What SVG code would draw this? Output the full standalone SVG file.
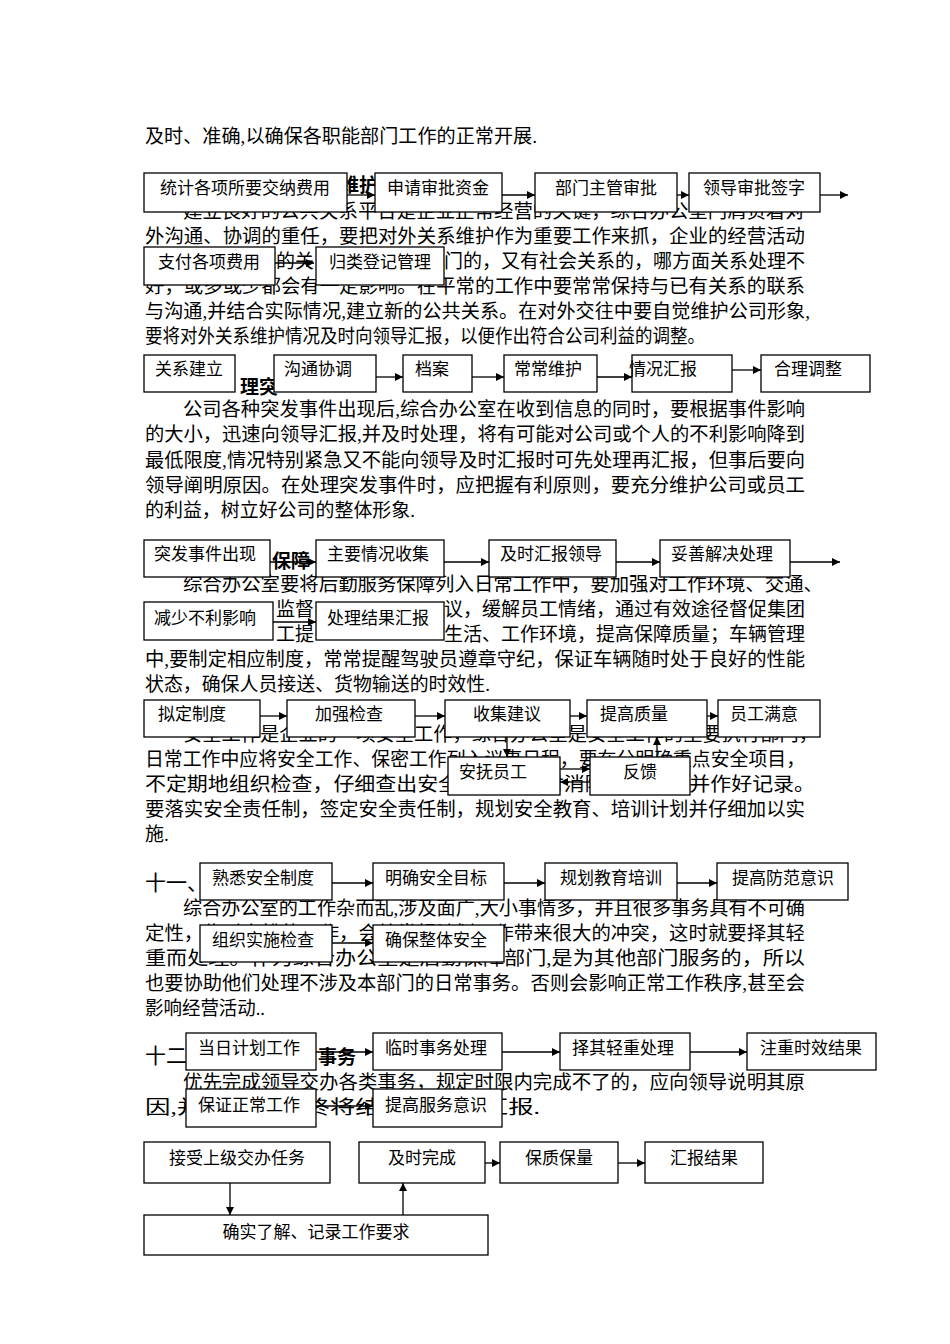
<svg xmlns="http://www.w3.org/2000/svg" width="950" height="1344" viewBox="0 0 950 1344">
<style>
.t{font-family:"Liberation Serif","Noto Sans CJK SC",serif;font-size:19px;fill:#000}
.h{font-family:"Liberation Sans","Noto Sans CJK SC",sans-serif;font-size:19px;font-weight:bold;fill:#000}
.b rect{fill:#fff;stroke:#000;stroke-width:1.3}
.b text{font-family:"Liberation Serif","Noto Sans CJK SC",serif;font-size:17px;fill:#000;text-anchor:middle}
.c line{stroke:#000;stroke-width:1.3;marker-end:url(#a)}
</style>
<defs><marker id="a" viewBox="0 0 10 10" refX="10" refY="5" markerWidth="8" markerHeight="8" markerUnits="userSpaceOnUse" orient="auto"><path d="M0,0L10,5L0,10z" fill="#000"/></marker></defs>
<rect width="950" height="1344" fill="#fff"/>
<g id="body">
<text class="t" x="145" y="143" textLength="392" lengthAdjust="spacingAndGlyphs">及时、准确,以确保各职能部门工作的正常开展.</text>
<text class="h" x="340" y="192">维护</text>
<text class="t" x="183" y="218" textLength="622" lengthAdjust="spacingAndGlyphs">建立良好的公共关系平台是企业正常经营的关键，综合办公室门肩负着对</text>
<text class="t" x="145" y="243" textLength="660" lengthAdjust="spacingAndGlyphs">外沟通、协调的重任，要把对外关系维护作为重要工作来抓，企业的经营活动</text>
<text class="t" x="276" y="268">的关</text>
<text class="t" x="444" y="268" textLength="361" lengthAdjust="spacingAndGlyphs">门的，又有社会关系的，哪方面关系处理不</text>
<text class="t" x="145" y="293" textLength="660" lengthAdjust="spacingAndGlyphs">好，或多或少都会有一定影响。在平常的工作中要常常保持与已有关系的联系</text>
<text class="t" x="145" y="318" textLength="665" lengthAdjust="spacingAndGlyphs">与沟通,并结合实际情况,建立新的公共关系。在对外交往中要自觉维护公司形象,</text>
<text class="t" x="145" y="343" textLength="560" lengthAdjust="spacingAndGlyphs">要将对外关系维护情况及时向领导汇报，以便作出符合公司利益的调整。</text>
<text class="h" x="240" y="394">理突</text>
<text class="t" x="183" y="416" textLength="622" lengthAdjust="spacingAndGlyphs">公司各种突发事件出现后,综合办公室在收到信息的同时，要根据事件影响</text>
<text class="t" x="145" y="441" textLength="660" lengthAdjust="spacingAndGlyphs">的大小，迅速向领导汇报,并及时处理，将有可能对公司或个人的不利影响降到</text>
<text class="t" x="145" y="467" textLength="660" lengthAdjust="spacingAndGlyphs">最低限度,情况特别紧急又不能向领导及时汇报时可先处理再汇报，但事后要向</text>
<text class="t" x="145" y="492" textLength="660" lengthAdjust="spacingAndGlyphs">领导阐明原因。在处理突发事件时，应把握有利原则，要充分维护公司或员工</text>
<text class="t" x="145" y="517" textLength="270" lengthAdjust="spacingAndGlyphs">的利益，树立好公司的整体形象.</text>
<text class="h" x="272" y="568">保障</text>
<text class="t" x="183" y="591" textLength="640" lengthAdjust="spacingAndGlyphs">综合办公室要将后勤服务保障列入日常工作中，要加强对工作环境、交通、</text>
<text class="t" x="276" y="616">监督</text>
<text class="t" x="444" y="616" textLength="361" lengthAdjust="spacingAndGlyphs">议，缓解员工情绪，通过有效途径督促集团</text>
<text class="t" x="276" y="641">工提</text>
<text class="t" x="444" y="641" textLength="361" lengthAdjust="spacingAndGlyphs">生活、工作环境，提高保障质量；车辆管理</text>
<text class="t" x="145" y="666" textLength="660" lengthAdjust="spacingAndGlyphs">中,要制定相应制度，常常提醒驾驶员遵章守纪，保证车辆随时处于良好的性能</text>
<text class="t" x="145" y="691" textLength="345" lengthAdjust="spacingAndGlyphs">状态，确保人员接送、货物输送的时效性.</text>
<text class="t" x="183" y="741" textLength="635" lengthAdjust="spacingAndGlyphs">安全工作是企业的一项安全工作，综合办公室是安全工作的主要执行部门，</text>
<text class="t" x="145" y="766" textLength="660" lengthAdjust="spacingAndGlyphs">日常工作中应将安全工作、保密工作列入议事日程，要在分明确重点安全项目，</text>
<text class="t" x="145" y="791" textLength="670" lengthAdjust="spacingAndGlyphs">不定期地组织检查，仔细查出安全隐患，及时消除潜在危害并作好记录。</text>
<text class="t" x="145" y="816" textLength="660" lengthAdjust="spacingAndGlyphs">要落实安全责任制，签定安全责任制，规划安全教育、培训计划并仔细加以实</text>
<text class="t" x="145" y="841">施.</text>
<text class="t" x="145" y="890" style="font-size:21px">十一、</text>
<text class="t" x="183" y="915" textLength="622" lengthAdjust="spacingAndGlyphs">综合办公室的工作杂而乱,涉及面广,大小事情多，并且很多事务具有不可确</text>
<text class="t" x="145" y="940" textLength="660" lengthAdjust="spacingAndGlyphs">定性，临时安排的工作，会给常规计划工作带来很大的冲突，这时就要择其轻</text>
<text class="t" x="145" y="965" textLength="660" lengthAdjust="spacingAndGlyphs">重而处理。作为综合办公室是后勤保障部门,是为其他部门服务的，所以</text>
<text class="t" x="145" y="990" textLength="660" lengthAdjust="spacingAndGlyphs">也要协助他们处理不涉及本部门的日常事务。否则会影响正常工作秩序,甚至会</text>
<text class="t" x="145" y="1015" textLength="120" lengthAdjust="spacingAndGlyphs">影响经营活动..</text>
<text class="t" x="145" y="1063" style="font-size:21px">十二、</text>
<text class="h" x="318" y="1064">事务</text>
<text class="t" x="183" y="1089" textLength="622" lengthAdjust="spacingAndGlyphs">优先完成领导交办各类事务，规定时限内完成不了的，应向领导说明其原</text>
<text class="t" x="145" y="1114" textLength="395" lengthAdjust="spacingAndGlyphs">因,并把工作最终将结果向领导汇报.</text>
</g>
<g class="c" id="connectors">
<line x1="347" y1="195" x2="375" y2="195"/>
<line x1="502" y1="195" x2="535" y2="195"/>
<line x1="677" y1="195" x2="689" y2="195"/>
<line x1="820" y1="195" x2="848" y2="195"/>
<line x1="275" y1="263" x2="314" y2="263"/>
<line x1="376" y1="377" x2="403" y2="377"/>
<line x1="472" y1="377" x2="504" y2="377"/>
<line x1="597" y1="377" x2="632" y2="377"/>
<line x1="732" y1="370" x2="761" y2="370"/>
<line x1="270" y1="562" x2="316" y2="562"/>
<line x1="444" y1="562" x2="489" y2="562"/>
<line x1="616" y1="562" x2="660" y2="562"/>
<line x1="790" y1="562" x2="840" y2="562"/>
<line x1="273" y1="622" x2="316" y2="622"/>
<line x1="260" y1="716" x2="287" y2="716"/>
<line x1="415" y1="716" x2="445" y2="716"/>
<line x1="570" y1="716" x2="587" y2="716"/>
<line x1="707" y1="716" x2="718" y2="716"/>
<line x1="507" y1="730" x2="507" y2="757"/>
<line x1="657" y1="757" x2="657" y2="737"/>
<line x1="560" y1="769" x2="590" y2="769"/>
<line x1="590" y1="782" x2="560" y2="782"/>
<line x1="332" y1="883" x2="373" y2="883"/>
<line x1="504" y1="883" x2="545" y2="883"/>
<line x1="677" y1="883" x2="717" y2="883"/>
<line x1="332" y1="943" x2="373" y2="943"/>
<line x1="316" y1="1052" x2="373" y2="1052"/>
<line x1="502" y1="1052" x2="560" y2="1052"/>
<line x1="690" y1="1052" x2="747" y2="1052"/>
<line x1="316" y1="1106" x2="373" y2="1106"/>
<line x1="485" y1="1163" x2="500" y2="1163"/>
<line x1="618" y1="1163" x2="645" y2="1163"/>
<line x1="230" y1="1183" x2="230" y2="1215"/>
<line x1="403" y1="1215" x2="403" y2="1183"/>
</g>
<g class="b">
<g id="n1"><rect x="144" y="173" width="203" height="39"/><text x="245" y="194">统计各项所要交纳费用</text></g>
<g id="n2"><rect x="375" y="173" width="127" height="39"/><text x="438" y="194">申请审批资金</text></g>
<g id="n3"><rect x="535" y="173" width="142" height="39"/><text x="606" y="194">部门主管审批</text></g>
<g id="n4"><rect x="689" y="173" width="131" height="39"/><text x="754" y="194">领导审批签字</text></g>
<g id="n5"><rect x="144" y="247" width="131" height="38"/><text x="209" y="268">支付各项费用</text></g>
<g id="n6"><rect x="316" y="247" width="128" height="38"/><text x="380" y="268">归类登记管理</text></g>
<g id="n7"><rect x="144" y="355" width="91" height="37"/><text x="189" y="375">关系建立</text></g>
<g id="n8"><rect x="274" y="355" width="102" height="37"/><text x="318" y="375">沟通协调</text></g>
<g id="n9"><rect x="403" y="355" width="69" height="37"/><text x="432" y="375">档案</text></g>
<g id="n10"><rect x="504" y="355" width="93" height="37"/><text x="548" y="375">常常维护</text></g>
<g id="n11"><rect x="632" y="355" width="100" height="37"/><text x="663" y="375">情况汇报</text></g>
<g id="n12"><rect x="761" y="355" width="109" height="37"/><text x="808" y="375">合理调整</text></g>
<g id="n13"><rect x="144" y="540" width="126" height="37"/><text x="205" y="560">突发事件出现</text></g>
<g id="n14"><rect x="316" y="540" width="128" height="37"/><text x="378" y="560">主要情况收集</text></g>
<g id="n15"><rect x="489" y="540" width="127" height="37"/><text x="551" y="560">及时汇报领导</text></g>
<g id="n16"><rect x="660" y="540" width="130" height="37"/><text x="722" y="560">妥善解决处理</text></g>
<g id="n17"><rect x="144" y="602" width="129" height="38"/><text x="205" y="624">减少不利影响</text></g>
<g id="n18"><rect x="316" y="602" width="128" height="38"/><text x="378" y="624">处理结果汇报</text></g>
<g id="n19"><rect x="144" y="700" width="116" height="37"/><text x="192" y="720">拟定制度</text></g>
<g id="n20"><rect x="287" y="700" width="128" height="37"/><text x="349" y="720">加强检查</text></g>
<g id="n21"><rect x="445" y="700" width="125" height="37"/><text x="507" y="720">收集建议</text></g>
<g id="n22"><rect x="587" y="700" width="120" height="37"/><text x="634" y="720">提高质量</text></g>
<g id="n23"><rect x="718" y="700" width="102" height="37"/><text x="764" y="720">员工满意</text></g>
<g id="n24"><rect x="448" y="757" width="112" height="38"/><text x="493" y="778">安抚员工</text></g>
<g id="n25"><rect x="590" y="757" width="100" height="38"/><text x="640" y="778">反馈</text></g>
<g id="n26"><rect x="200" y="863" width="132" height="37"/><text x="263" y="884">熟悉安全制度</text></g>
<g id="n27"><rect x="373" y="863" width="131" height="37"/><text x="436" y="884">明确安全目标</text></g>
<g id="n28"><rect x="545" y="863" width="132" height="37"/><text x="611" y="884">规划教育培训</text></g>
<g id="n29"><rect x="717" y="863" width="131" height="37"/><text x="783" y="884">提高防范意识</text></g>
<g id="n30"><rect x="200" y="925" width="132" height="37"/><text x="263" y="946">组织实施检查</text></g>
<g id="n31"><rect x="373" y="925" width="131" height="37"/><text x="436" y="946">确保整体安全</text></g>
<g id="n32"><rect x="186" y="1033" width="130" height="37"/><text x="249" y="1054">当日计划工作</text></g>
<g id="n33"><rect x="373" y="1033" width="129" height="37"/><text x="436" y="1054">临时事务处理</text></g>
<g id="n34"><rect x="560" y="1033" width="130" height="37"/><text x="623" y="1054">择其轻重处理</text></g>
<g id="n35"><rect x="747" y="1033" width="129" height="37"/><text x="811" y="1054">注重时效结果</text></g>
<g id="n36"><rect x="186" y="1089" width="130" height="38"/><text x="249" y="1111">保证正常工作</text></g>
<g id="n37"><rect x="373" y="1089" width="129" height="38"/><text x="436" y="1111">提高服务意识</text></g>
<g id="n38"><rect x="144" y="1142" width="186" height="41"/><text x="237" y="1164">接受上级交办任务</text></g>
<g id="n39"><rect x="359" y="1142" width="126" height="41"/><text x="422" y="1164">及时完成</text></g>
<g id="n40"><rect x="500" y="1142" width="118" height="41"/><text x="559" y="1164">保质保量</text></g>
<g id="n41"><rect x="645" y="1142" width="118" height="41"/><text x="704" y="1164">汇报结果</text></g>
<g id="n42"><rect x="144" y="1215" width="344" height="40"/><text x="316" y="1238">确实了解、记录工作要求</text></g>
</g>
</svg>
